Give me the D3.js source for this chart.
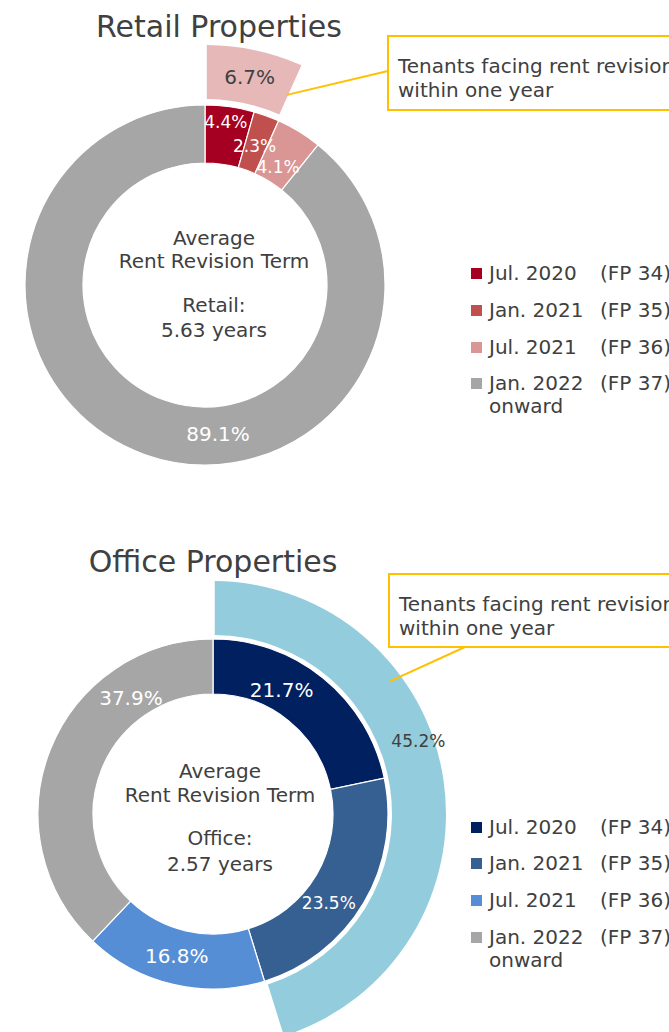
<!DOCTYPE html>
<html>
<head>
<meta charset="utf-8">
<script src="https://cdn.jsdelivr.net/npm/d3@7"></script>
<style>
  body { margin: 0; background: #fff; }
  svg { display: block; font-family: "DejaVu Sans", sans-serif; }
</style>
</head>
<body>
<div id="chart"></div>
<script>
// rent revision periods (legend rows)
const periods = ["Jul. 2020", "Jan. 2021", "Jul. 2021", "Jan. 2022"];
const fiscalPeriods = ["(FP 34)", "(FP 35)", "(FP 36)", "(FP 37)"];

// retail properties, share of rent by revision period (%)
const retailShares = [4.4, 2.3, 4.1, 89.1];
const retailWithinYear = 6.7;
const retailTerm = ["Retail:", "5.63 years"];

// office properties
const officeShares = [21.7, 23.5, 16.8, 37.9];
const officeWithinYear = 45.2;
const officeTerm = ["Office:", "2.57 years"];

const textColor = "#404040";
const calloutColor = "#FFC000";

let width = 669, height = 1032;

let svg = d3.select("#chart")
    .append("svg")
        .attr("width", width)
        .attr("height", height);

let charts = [
    {
        title: "Retail Properties", titleX: 219, titleY: 37,
        cx: 205, cy: 285, r0: 122, r1: 180, o0: 186, o1: 240,
        shares: retailShares, within: retailWithinYear, term: retailTerm,
        colors: ["#A50021", "#C0504D", "#DA9694", "#A6A6A6"],
        outerColor: "#E6B9B8",
        // label placement: [angle deg, radius, font size]
        labels: [[7.3, 164, 17], [19.6, 148, 17], [31.7, 139, 17], [175, 149, 20]],
        outerLabel: [12.1, 213, 20],
        textX: 214, textY: [-40, -17, 27, 52],
        box: {x: 388, y: 36, h: 74}, leaderFrom: [388, 71], leaderTo: [23.3, 207],
        legendY: [280, 317, 354, 390]
    },
    {
        title: "Office Properties", titleX: 213, titleY: 572,
        cx: 213, cy: 814, r0: 120, r1: 175, o0: 179, o1: 233,
        shares: officeShares, within: officeWithinYear, term: officeTerm,
        colors: ["#002060", "#376092", "#558ED5", "#A6A6A6"],
        outerColor: "#93CDDD",
        labels: [[28.9, 142, 20], [127.5, 146, 17], [194.4, 146, 20], [324.7, 142, 20]],
        outerLabel: [70.4, 218, 17],
        textX: 220, textY: [-36, -12, 31, 57],
        box: {x: 389, y: 574, h: 73}, leaderFrom: [465, 647], leaderTo: [53.1, 221],
        legendY: [834, 870, 907, 944]
    }
];

let pie = d3.pie().sort(null).value(d => d);

charts.forEach(c => {
    let g = svg.append("g").attr("transform", `translate(${c.cx},${c.cy})`);

    // title
    svg.append("text")
        .attr("x", c.titleX).attr("y", c.titleY)
        .attr("text-anchor", "middle")
        .attr("font-size", 30)
        .attr("fill", textColor)
        .text(c.title);

    // inner donut
    let arc = d3.arc().innerRadius(c.r0).outerRadius(c.r1);
    g.selectAll("path.slice")
        .data(pie(c.shares))
        .enter()
        .append("path")
            .attr("class", "slice")
            .attr("d", arc)
            .attr("fill", (d, i) => c.colors[i])
            .attr("stroke", "#fff")
            .attr("stroke-width", 1.2);

    // outer ring: tenants facing revision within one year
    let outerArc = d3.arc().innerRadius(c.o0).outerRadius(c.o1).padAngle(0.012);
    let outer = pie([c.within, 100 - c.within])[0];
    g.append("path")
        .attr("d", outerArc(outer))
        .attr("fill", c.outerColor);

    // callout box + leader
    let to = d3.pointRadial(c.leaderTo[0] * Math.PI / 180, c.leaderTo[1]);
    svg.append("line")
        .attr("x1", c.leaderFrom[0]).attr("y1", c.leaderFrom[1])
        .attr("x2", c.cx + to[0]).attr("y2", c.cy + to[1])
        .attr("stroke", calloutColor)
        .attr("stroke-width", 2);
    svg.append("rect")
        .attr("x", c.box.x).attr("y", c.box.y)
        .attr("width", 320).attr("height", c.box.h)
        .attr("fill", "#fff")
        .attr("stroke", calloutColor)
        .attr("stroke-width", 2);
    let callout = svg.append("text")
        .attr("font-size", 20)
        .attr("fill", textColor);
    ["Tenants facing rent revision", "within one year"].forEach((t, i) => {
        callout.append("tspan")
            .attr("x", c.box.x + 10)
            .attr("y", c.box.y + 37 + i * 24)
            .text(t);
    });

    // slice labels
    c.shares.forEach((v, i) => {
        let [a, r, fs] = c.labels[i];
        let p = d3.pointRadial(a * Math.PI / 180, r);
        g.append("text")
            .attr("x", p[0]).attr("y", p[1])
            .attr("dy", "0.36em")
            .attr("text-anchor", "middle")
            .attr("font-size", fs)
            .attr("fill", "#fff")
            .text(v.toFixed(1) + "%");
    });
    let op = d3.pointRadial(c.outerLabel[0] * Math.PI / 180, c.outerLabel[1]);
    g.append("text")
        .attr("x", op[0]).attr("y", op[1])
        .attr("dy", "0.36em")
        .attr("text-anchor", "middle")
        .attr("font-size", c.outerLabel[2])
        .attr("fill", textColor)
        .text(c.within.toFixed(1) + "%");

    // centre text
    ["Average", "Rent Revision Term", c.term[0], c.term[1]].forEach((t, i) => {
        svg.append("text")
            .attr("x", c.textX)
            .attr("y", c.cy + c.textY[i])
            .attr("text-anchor", "middle")
            .attr("font-size", 20)
            .attr("fill", textColor)
            .text(t);
    });

    // legend
    let legend = svg.append("g");
    periods.forEach((p, i) => {
        let y = c.legendY[i];
        legend.append("rect")
            .attr("x", 471).attr("y", y - 12)
            .attr("width", 11).attr("height", 11)
            .attr("fill", c.colors[i]);
        legend.append("text")
            .attr("x", 489).attr("y", y)
            .attr("font-size", 20)
            .attr("fill", textColor)
            .text(p);
        legend.append("text")
            .attr("x", 600).attr("y", y)
            .attr("font-size", 20)
            .attr("fill", textColor)
            .text(fiscalPeriods[i]);
    });
    legend.append("text")
        .attr("x", 489).attr("y", c.legendY[3] + 23)
        .attr("font-size", 20)
        .attr("fill", textColor)
        .text("onward");
});
</script>
</body>
</html>
